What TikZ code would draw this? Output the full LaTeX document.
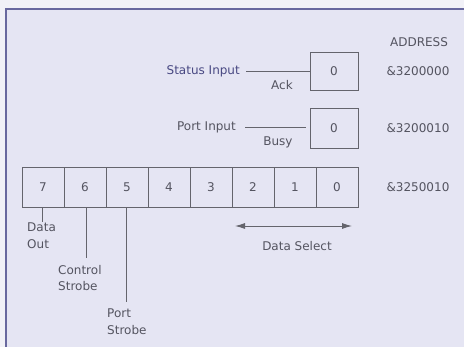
\documentclass[tikz,border=0pt]{standalone}
\usepackage{fontspec}
\setmainfont{DejaVu Sans}
\usepackage{tikz}
\usetikzlibrary{arrows.meta, positioning}
\definecolor{pagebg}{RGB}{241,241,247}
\definecolor{panelbg}{RGB}{229,229,243}
\definecolor{rimblue}{RGB}{104,104,158}
\definecolor{inkgray}{RGB}{84,84,96}
\definecolor{inkblue}{RGB}{72,72,130}
\definecolor{linegray}{RGB}{100,100,108}

\begin{document}
\begin{tikzpicture}[x=1pt, y=-1pt,
    every node/.style={font=\fontsize{12}{16.5}\selectfont, text=inkgray, inner sep=1pt},
    cell/.style={draw=linegray, line width=0.8pt, minimum width=42pt, minimum height=40pt, inner sep=0pt},
    single/.style={draw=linegray, line width=0.8pt, minimum width=48pt, inner sep=0pt},
    lbl/.style={align=left, anchor=north west},
    wire/.style={draw=linegray, line width=0.9pt}
]
\useasboundingbox (0,0) rectangle (464,347);
\fill[pagebg] (0,0) rectangle (464,347);
\fill[panelbg] (6,9) rectangle (464,347);
\draw[rimblue, line width=1.8pt] (6,347) -- (6,9) -- (464,9);

% address column
\node (addr) at (419,42) {ADDRESS};
\node (a0) at (418,71) {\&3200000};
\node (a1) at (418,128) {\&3200010};
\node (a2) at (418,187) {\&3250010};

% status and port input registers
\node[single, minimum height=38pt] (s0) at (334,71) {0};
\node[single, minimum height=40pt] (p0) at (334,128) {0};
\node[anchor=east, text=inkblue] (si) at (241,71) {Status Input};
\node[anchor=east] (pi) at (237,127) {Port Input};
\draw[wire] (si.east) ++(5,0) coordinate (si1) -- (s0.west);
\draw[wire, shorten >=4pt] (pi.east) ++(8,0) coordinate (pi1) -- (p0.west |- pi1);
\node (ack) at (282,85) {Ack};
\node (busy) at (278,142) {Busy};

% data port, bits 7..0
\foreach \b [count=\i from 0] in {7,6,5,4,3,2,1,0}
    \node[cell] (c\b) at (43+42*\i,187) {\b};

% bit functions
\coordinate (d7) at (42,222);
\coordinate (d6) at (86,258);
\coordinate (d5) at (126,302);
\draw[wire] (c7.south -| d7) -- (d7);
\draw[wire] (c6.south -| d6) -- (d6);
\draw[wire] (c5.south -| d5) -- (d5);
\node[lbl] (dout) at (26,222) {Data\\Out};
\node[lbl] (cstr) at (57,264) {Control\\Strobe};
\node[lbl] (pstr) at (106,308) {Port\\Strobe};

% data select range
\coordinate (ds1) at (235,226);
\coordinate (ds2) at (352,226);
\draw[wire, {Latex[length=10pt,width=6pt]}-{Latex[length=10pt,width=6pt]}] (ds1) -- (ds2);
\node (dsel) at (297,246) {Data Select};
\end{tikzpicture}
\end{document}
